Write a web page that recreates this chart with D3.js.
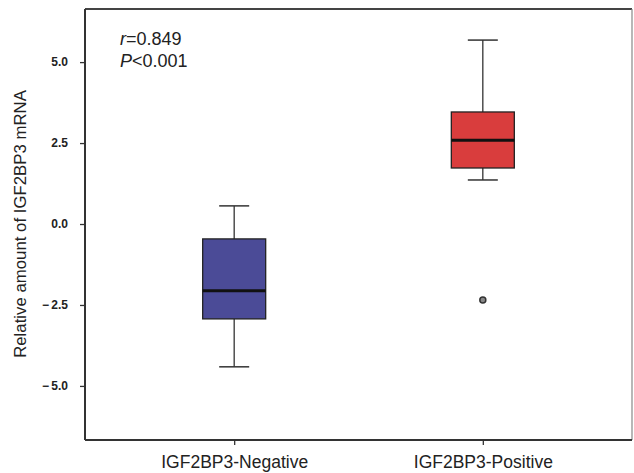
<!DOCTYPE html>
<html lang="en">
<head>
  <meta charset="UTF-8">
  <title>IGF2BP3 mRNA box plot</title>
  <script src="https://d3js.org/d3.v7.min.js"></script>
  <style>
    body {
      margin: 0;
      background: white;
      font-family: Arial, 'Liberation Sans', sans-serif;
    }
    svg { display: block; }
    .tick-label { font-size: 12px; font-weight: bold; fill: #222; }
    .cat-label { font-size: 17.5px; fill: #222; }
    .y-label { font-size: 16.8px; fill: #222; }
    .note { font-size: 18px; fill: #222; }
  </style>
</head>
<body>
<svg></svg>
<script>
// groups and their box statistics
const groups = ["IGF2BP3-Negative", "IGF2BP3-Positive"];
const boxColors = ["#4b4b97", "#d93d3d"];
const whiskerLow = [-4.41, 1.36];
const q1 = [-2.93, 1.73];
const median = [-2.06, 2.59];
const q3 = [-0.46, 3.46];
const whiskerHigh = [0.56, 5.68];
const outliers = [[], [-2.35]];

const yTicks = [-5.0, -2.5, 0.0, 2.5, 5.0];

const width = 634, height = 473;
const margin = { top: 9, right: 2, bottom: 33, left: 85 };

const svg = d3.select("svg")
  .attr("width", width)
  .attr("height", height);

const x = d3.scalePoint()
  .domain(groups)
  .range([margin.left, width - margin.right])
  .padding(0.6);

const y = d3.scaleLinear()
  .domain([-6.67, 6.64])
  .range([height - margin.bottom, margin.top]);

const boxW = 63, capW = 30;

// frame: top and right
svg.append("path")
  .attr("d", `M${margin.left},${margin.top}H${width - margin.right}`)
  .attr("fill", "none")
  .attr("stroke", "#444")
  .attr("stroke-width", 2);
svg.append("path")
  .attr("d", `M${width - margin.right},${margin.top}V${height - margin.bottom}`)
  .attr("fill", "none")
  .attr("stroke", "#888")
  .attr("stroke-width", 1.2);

const data = groups.map((g, i) => ({
  name: g, color: boxColors[i],
  lo: whiskerLow[i], q1: q1[i], med: median[i], q3: q3[i], hi: whiskerHigh[i],
  out: outliers[i]
}));

const box = svg.append("g").selectAll("g")
  .data(data)
  .join("g")
  .attr("transform", d => `translate(${x(d.name)},0)`);

// whiskers
box.append("line")
  .attr("y1", d => y(d.hi)).attr("y2", d => y(d.q3))
  .attr("stroke", "#333").attr("stroke-width", 1.3);
box.append("line")
  .attr("y1", d => y(d.q1)).attr("y2", d => y(d.lo))
  .attr("stroke", "#333").attr("stroke-width", 1.3);
box.append("line")
  .attr("x1", -capW / 2).attr("x2", capW / 2)
  .attr("y1", d => y(d.hi)).attr("y2", d => y(d.hi))
  .attr("stroke", "#333").attr("stroke-width", 1.5);
box.append("line")
  .attr("x1", -capW / 2).attr("x2", capW / 2)
  .attr("y1", d => y(d.lo)).attr("y2", d => y(d.lo))
  .attr("stroke", "#333").attr("stroke-width", 1.5);

box.append("rect")
  .attr("x", -boxW / 2)
  .attr("width", boxW)
  .attr("y", d => y(d.q3))
  .attr("height", d => y(d.q1) - y(d.q3))
  .attr("fill", d => d.color)
  .attr("stroke", "#222")
  .attr("stroke-width", 1.3);

box.append("line")
  .attr("x1", -boxW / 2).attr("x2", boxW / 2)
  .attr("y1", d => y(d.med)).attr("y2", d => y(d.med))
  .attr("stroke", "#111").attr("stroke-width", 3);

box.selectAll("circle")
  .data(d => d.out)
  .join("circle")
  .attr("cy", v => y(v))
  .attr("r", 3)
  .attr("fill", "#888")
  .attr("stroke", "#333")
  .attr("stroke-width", 1.5);

// y axis
const yAxis = svg.append("g")
  .attr("transform", `translate(${margin.left},0)`)
  .call(d3.axisLeft(y).tickValues(yTicks).tickSize(5).tickPadding(12)
    .tickFormat(d => d < 0 ? "\u2212\u2009" + d3.format(".1f")(-d) : d3.format(".1f")(d)));
yAxis.select(".domain")
  .attr("d", `M0,${margin.top}V${height - margin.bottom}`)
  .attr("stroke", "#333").attr("stroke-width", 2);
yAxis.selectAll(".tick line").attr("stroke", "#333").attr("stroke-width", 1.3);
yAxis.selectAll(".tick text").attr("class", "tick-label").attr("font-family", null).attr("font-size", null);

// x axis
const xAxis = svg.append("g")
  .attr("transform", `translate(0,${height - margin.bottom})`)
  .call(d3.axisBottom(x).tickSize(5));
xAxis.select(".domain")
  .attr("d", `M${margin.left},0H${width - margin.right}`)
  .attr("stroke", "#333").attr("stroke-width", 2);
xAxis.selectAll(".tick line").attr("stroke", "#333").attr("stroke-width", 1.3);
xAxis.selectAll(".tick text").attr("class", "cat-label").attr("font-family", null).attr("font-size", null)
  .attr("y", 28).attr("dy", 0);

// y label
svg.append("text")
  .attr("class", "y-label")
  .attr("transform", "translate(26,224) rotate(-90)")
  .attr("text-anchor", "middle")
  .text("Relative amount of IGF2BP3 mRNA");

// stats annotation
const note = svg.append("g").attr("transform", "translate(120,0)");
const t1 = note.append("text").attr("class", "note").attr("y", 45);
t1.append("tspan").attr("font-style", "italic").text("r");
t1.append("tspan").text("=0.849");
const t2 = note.append("text").attr("class", "note").attr("y", 67);
t2.append("tspan").attr("font-style", "italic").text("P");
t2.append("tspan").text("<0.001");
</script>
</body>
</html>
